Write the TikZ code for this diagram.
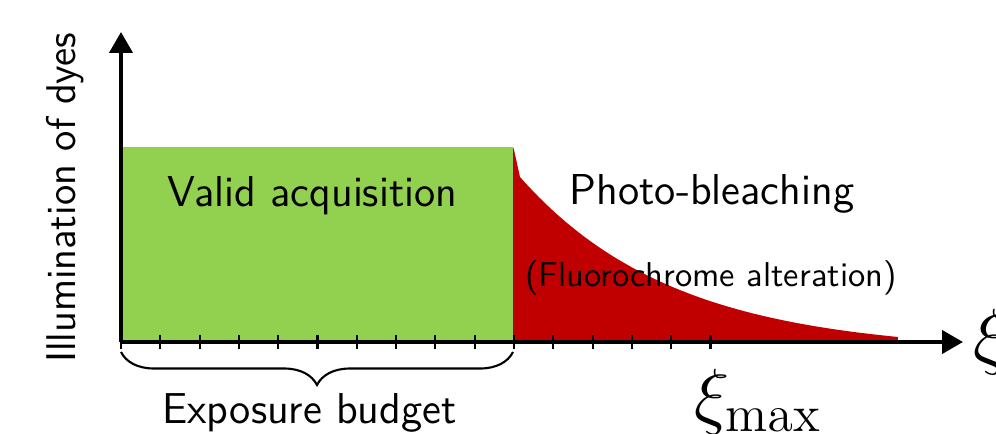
\RequirePackage{fix-cm}
\documentclass[tikz,border=0pt]{standalone}
\usepackage{amsmath}
\usepackage{xcolor}
\usepackage{tikz}
\usetikzlibrary{arrows.meta, decorations.pathreplacing}
\definecolor{validgreen}{HTML}{92D050}
\definecolor{bleachred}{HTML}{C00000}

\begin{document}
\begin{tikzpicture}[>={Triangle[length=2.1mm, width=2.3mm]}, font=\sffamily\fontsize{12.3}{14}\selectfont]
    \useasboundingbox (-1.21,-0.91) rectangle (8.75,3.42);
    \fill[validgreen] (0,0) rectangle (3.92,1.95);
    \fill[bleachred] (3.92,0) -- (3.92,1.95) -- (3.93,1.92)
        -- plot[domain=3.99:7.77, samples=60] (\x, {1.75*exp(-(\x-3.99)/1.54)-0.10})
        -- (7.77,0) -- cycle;
    \foreach \i in {0,...,15}
        \draw[line width=0.6pt] (\i*0.393,-0.07) -- (\i*0.393,0.07);
    \draw[->, line width=1.2pt] (0,0) -- (0,3.10);
    \draw[->, line width=1.2pt] (0,0) -- (8.42,0) coordinate (xend);
    \node[anchor=base] (valid) at (1.915,1.35) {Valid acquisition};
    \node[anchor=base] (bleach) at (5.91,1.37) {Photo-bleaching};
    \node[anchor=base, font=\sffamily\fontsize{9.8}{12}\selectfont] (fluo) at (5.90,0.55) {(Fluorochrome alteration)};
    \node[anchor=base, rotate=90, font=\sffamily\fontsize{11.8}{14}\selectfont] (ylabel) at (-0.46,1.44) {Illumination of dyes};
    \draw[decorate, decoration={brace, mirror, amplitude=3.3mm}, line width=0.6pt] (0,-0.10) -- (3.92,-0.10);
    \node[anchor=base] (budget) at (1.885,-0.81) {Exposure budget};
    \node[anchor=base, font=\fontsize{21}{25}\selectfont] (ximax) at (6.37,-0.78) {$\xi_{\max}$};
    \node[anchor=west, inner sep=1mm, font=\fontsize{21}{25}\selectfont] (xi) at (xend) {$\xi$};
\end{tikzpicture}
\end{document}
